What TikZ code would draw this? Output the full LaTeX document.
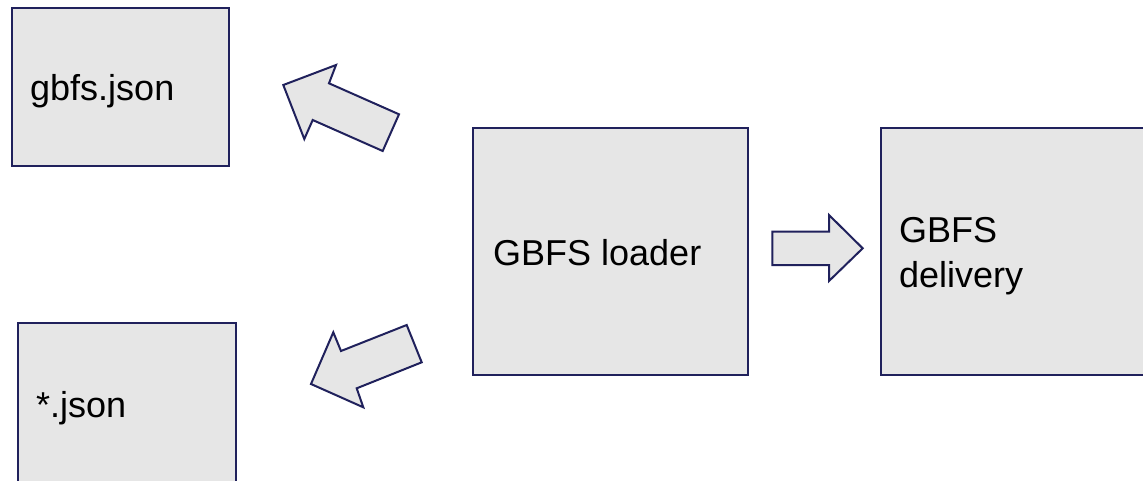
\documentclass[tikz,border=0pt]{standalone}
\usepackage{fontspec}
\setmainfont{Liberation Sans}
\definecolor{edge}{RGB}{32,33,92}
\definecolor{panel}{RGB}{230,230,230}
\tikzset{
  block/.style={draw=edge, fill=panel, line width=1.5pt, inner sep=0pt, outer sep=0pt},
  blockarrow/.style={draw=edge, fill=panel, line width=2pt, line join=miter},
  label/.style={anchor=base west, inner sep=0pt, font=\fontsize{36}{45}\selectfont, align=left}
}
\begin{document}
\begin{tikzpicture}[x=1pt,y=-1pt]
  \clip (0,0) rectangle (1143,480);
  \fill[white] (0,0) rectangle (1143,480);

  % boxes
  \node[block, minimum width=217pt, minimum height=158pt, anchor=north west] (gbfs) at (12,8) {};
  \node[block, minimum width=218pt, minimum height=180pt, anchor=north west] (star) at (18,323) {};
  \node[block, minimum width=275pt, minimum height=247pt, anchor=north west] (loader) at (473,128) {};
  \node[block, minimum width=280pt, minimum height=247pt, anchor=north west] (delivery) at (881,128) {};

  % box texts (multi-line text is anchored at its last baseline)
  \node[label] (gbfstxt) at (30,100) {gbfs.json};
  \node[label] (startxt) at (36,417) {*.json};
  \node[label] (loadertxt) at (493,265) {GBFS loader};
  \node[label] (deliverytxt) at (899,287) {GBFS\\delivery};

  % block arrows
  \draw[blockarrow] (283.3,85) -- (336,65) -- (329,83.3) -- (399,114.3)
    -- (382.7,151) -- (312.7,120) -- (304.3,139) -- cycle;
  \draw[blockarrow] (311,384) -- (363.3,407.3) -- (356.7,388.3) -- (421.7,362.3)
    -- (406.7,325) -- (341,351) -- (333.3,332.3) -- cycle;
  \draw[blockarrow] (772.3,231.7) -- (829,231.7) -- (829,215) -- (862.7,248.3)
    -- (829,281) -- (829,265) -- (772.3,265) -- cycle;
\end{tikzpicture}
\end{document}
